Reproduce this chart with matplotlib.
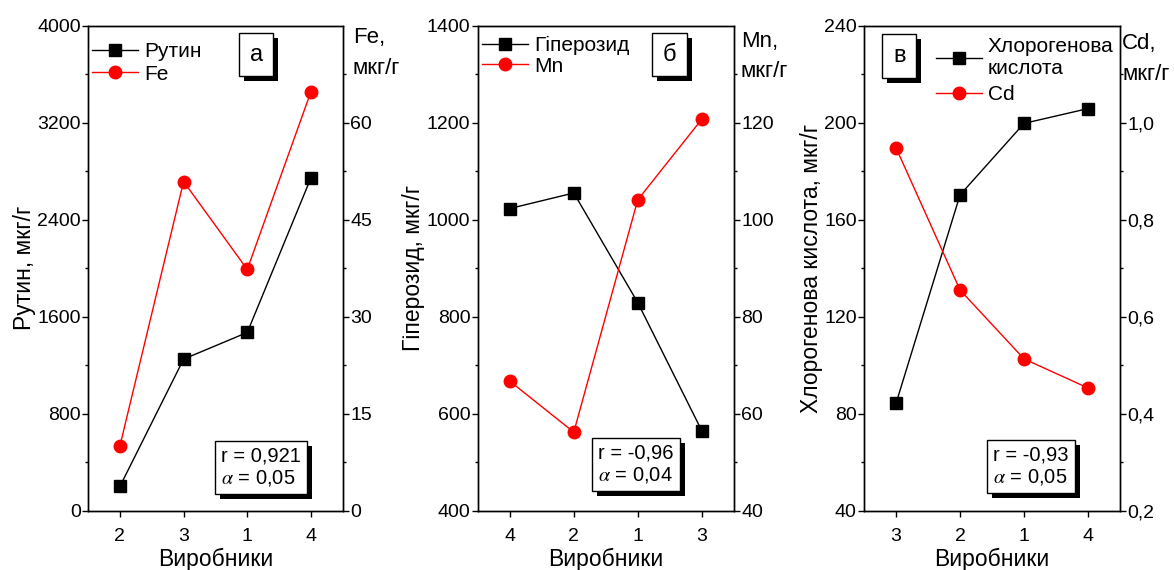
import numpy as np
import matplotlib
matplotlib.use("Agg")
import matplotlib.pyplot as plt
import matplotlib.patheffects as pe
from matplotlib.ticker import FixedLocator

plt.rcParams['font.family'] = ['Liberation Sans', 'DejaVu Sans']
plt.rcParams['mathtext.fontset'] = 'stix'

# а) рутин / Fe
producers_a = ['2', '3', '1', '4']
rutin = [200, 1250, 1470, 2745]
fe = [10.0, 50.9, 37.3, 64.8]

# б) гіперозид / Mn
producers_b = ['4', '2', '1', '3']
hyperoside = [1023, 1055, 829, 565]
mn = [66.7, 56.2, 104.1, 120.7]

# в) хлорогенова кислота / Cd
producers_c = ['3', '2', '1', '4']
chlorogenic = [84.3, 170.2, 199.7, 205.8]
cd = [0.948, 0.655, 0.513, 0.453]

fig = plt.figure(figsize=(11.74, 5.70), dpi=100)


def shadow_box(t, off=3.6):
    t.get_bbox_patch().set_path_effects(
        [pe.SimplePatchShadow(offset=(off, -off), shadow_rgbFace='k', alpha=1),
         pe.Normal()])


def draw_panel(rect, cats, left, right, left_name, right_name, left_label,
               right_label, ylim, ystep, rlim, rstep, rfmt, letter, stats,
               letter_xy, stats_xy, leg_xy, leg_sp, rlab_xy):
    ax = fig.add_axes(rect)
    ax2 = ax.twinx()
    x = np.arange(len(cats))

    l1, = ax.plot(x, left, '-s', color='k', ms=8, lw=1, label=left_name)
    l2, = ax2.plot(x, right, '-o', color='red', mec='red', ms=9, lw=1,
                   label=right_name)

    ax.set_xlim(-0.5, len(cats) - 0.5)
    ax.set_xticks(x)
    ax.set_xticklabels(cats)
    ax.set_ylim(*ylim)
    ax.yaxis.set_major_locator(FixedLocator(np.arange(ylim[0], ylim[1] + 1e-9, ystep)))
    ax.yaxis.set_minor_locator(FixedLocator(np.arange(ylim[0] + ystep / 2, ylim[1], ystep)))

    ax2.set_ylim(*rlim)
    rt = np.arange(rlim[0], rlim[1] - rstep / 2, rstep)
    ax2.yaxis.set_major_locator(FixedLocator(rt))
    ax2.set_yticklabels([rfmt(v) for v in rt])
    ax2.yaxis.set_minor_locator(FixedLocator(np.arange(rlim[0] + rstep / 2, rlim[1], rstep)))

    for a in (ax, ax2):
        a.tick_params(axis='both', which='major', direction='out', length=4.3,
                      width=1, labelsize=14, pad=1)
        a.tick_params(axis='both', which='minor', direction='out', length=2.3,
                      width=1)
        for s in a.spines.values():
            s.set_linewidth(1)
    ax.tick_params(axis='x', pad=8)

    ax.set_xlabel('Виробники', fontsize=16.5, labelpad=2)
    ax.set_ylabel(left_label, fontsize=16.5, labelpad=1)
    ax2.text(*rlab_xy, right_label, transform=ax2.transAxes, ha='left',
             va='top', fontsize=16, linespacing=1.6)

    ax2.legend([l1, l2], [left_name, right_name], loc='upper left',
               bbox_to_anchor=leg_xy, frameon=False, handlelength=2.2,
               handletextpad=0.3, labelspacing=leg_sp, borderpad=0,
               borderaxespad=0, fontsize=15)

    t = ax2.text(*letter_xy, letter, transform=ax2.transAxes, ha='center',
                 va='center', fontsize=17,
                 bbox=dict(boxstyle='square,pad=0.45', fc='white', ec='k', lw=1))
    shadow_box(t)
    t = ax2.text(*stats_xy, stats, transform=ax2.transAxes, ha='center',
                 va='center', multialignment='left', fontsize=14.5,
                 linespacing=1.15,
                 bbox=dict(boxstyle='square,pad=0.3', fc='white', ec='k', lw=1))
    shadow_box(t)
    return ax, ax2


draw_panel([0.075, 0.104, 0.217, 0.851], producers_a, rutin, fe,
           'Рутин', 'Fe', 'Рутин, мкг/г', 'Fe,\nмкг/г',
           (0, 4000), 800, (0, 75), 15, lambda v: f'{v:.0f}',
           'а', 'r = 0,921\n$\\alpha$ = 0,05',
           (0.66, 0.94), (0.68, 0.089), (0.016, 0.966), 0.17, (1.04, 0.997))

draw_panel([0.407, 0.104, 0.218, 0.851], producers_b, hyperoside, mn,
           'Гіперозид', 'Mn', 'Гіперозид, мкг/г', 'Mn,\nмкг/г',
           (400, 1400), 200, (40, 140), 20, lambda v: f'{v:.0f}',
           'б', 'r = -0,96\n$\\alpha$ = 0,04',
           (0.75, 0.94), (0.617, 0.096), (0.016, 0.979), 0.08, (1.027, 0.99))

draw_panel([0.736, 0.104, 0.218, 0.851], producers_c, chlorogenic, cd,
           'Хлорогенова\nкислота', 'Cd', 'Хлорогенова кислота, мкг/г', 'Cd,\nмкг/г',
           (40, 240), 40, (0.2, 1.2), 0.2, lambda v: f'{v:.1f}'.replace('.', ','),
           'в', 'r = -0,93\n$\\alpha$ = 0,05',
           (0.137, 0.9375), (0.652, 0.0915), (0.28, 0.977), 0.35, (1.008, 0.985))

fig.savefig('out.png', dpi=100)
